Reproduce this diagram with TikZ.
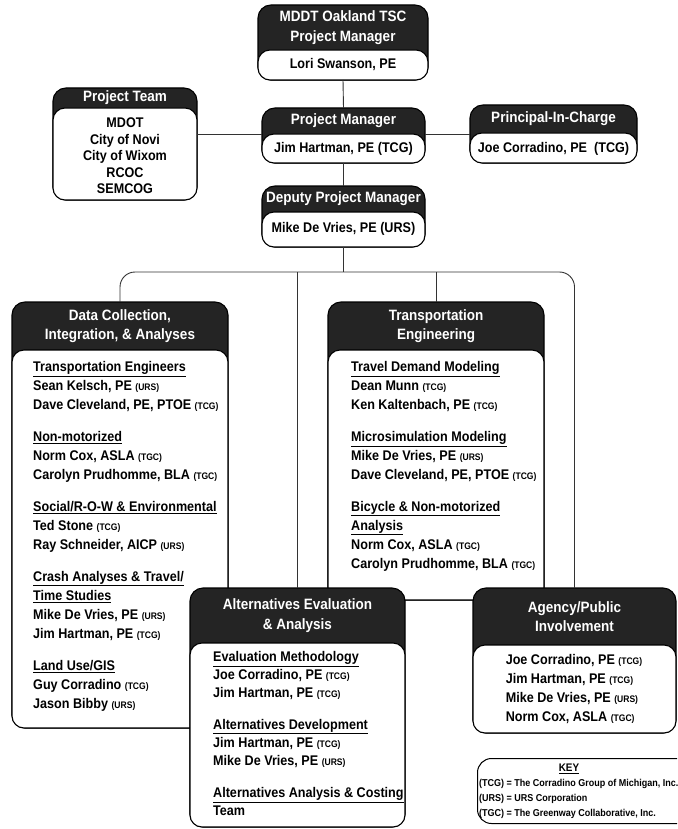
\documentclass[tikz,border=0pt]{standalone}
\usepackage{fontspec}
\setmainfont{Liberation Sans}[FakeStretch=0.9]
\usetikzlibrary{calc}
\definecolor{hdr}{gray}{0.14}
\newcommand\orgsm[1]{{\fontsize{9.5}{9.5}\selectfont #1}}
\tikzset{
  outerbox/.style={draw=black, line width=1.1pt, fill=hdr, rounded corners=13pt, inner sep=0pt, outer sep=0pt},
  innerbox/.style={draw=black, line width=1.1pt, fill=white, rounded corners=12pt, inner sep=0pt, outer sep=0pt},
  headtext/.style={text=white, font=\bfseries\fontsize{15}{19.5}\selectfont, align=center, inner sep=0pt},
  bodytext/.style={font=\bfseries\fontsize{14}{19}\selectfont, align=left, inner sep=0pt, anchor=north west},
  centtext/.style={font=\bfseries\fontsize{14}{19}\selectfont, align=center, inner sep=0pt},
  keytext/.style={font=\bfseries\fontsize{10}{15}\selectfont, align=left, inner sep=0pt},
  conn/.style={draw=black!80, line width=0.9pt},
}
\newcommand\orgbox[7]{%
  \pgfmathsetmacro\obw{#4-#2}%
  \pgfmathsetmacro\obh{#5-#3}%
  \pgfmathsetmacro\oih{#5-#6}%
  \pgfmathsetmacro\ocx{(#2+#4)/2}%
  \pgfmathsetmacro\ocy{(#3+#6)/2}%
  \node[outerbox, minimum width=\obw pt, minimum height=\obh pt, anchor=north west] (#1) at (#2,#3) {};
  \node[innerbox, minimum width=\obw pt, minimum height=\oih pt, anchor=south west] (#1-body) at (#2,#5) {};
  \node[headtext] (#1-head) at (\ocx,\ocy) {#7};
}
\begin{document}
\begin{tikzpicture}[x=1pt,y=-1pt]
\clip (0,0) rectangle (677,829);
\fill[white] (0,0) rectangle (677,829);

% top level
\orgbox{top}{258}{5}{428}{80}{50}{MDDT Oakland TSC\\Project Manager}
\node[centtext] (top-text) at (343,65) {Lori Swanson, PE};

\orgbox{pt}{53}{88}{197}{200}{108}{Project Team}
\node[centtext, font=\bfseries\fontsize{14}{16.5}\selectfont] (pt-text) at (125,156) {MDOT\\City of Novi\\City of Wixom\\RCOC\\SEMCOG};

\orgbox{pm}{262}{108}{425}{163}{134}{Project Manager}
\node[centtext] (pm-text) at (343.5,149) {Jim Hartman, PE (TCG)};

\orgbox{pic}{470}{105}{637}{163}{133}{Principal-In-Charge}
\node[centtext] (pic-text) at (553.5,149) {Joe Corradino, PE\ \ (TCG)};

\orgbox{dep}{262}{186}{425}{247}{212}{Deputy Project Manager}
\node[centtext] (dep-text) at (343.5,229) {Mike De Vries, PE (URS)};

% second level
\orgbox{dc}{12}{302}{228}{728}{350}{Data Collection,\\Integration, \& Analyses}
\node[bodytext] (dc-text) at (33,361) {\underline{Transportation Engineers}\\
Sean Kelsch, PE \orgsm{(URS)}\\
Dave Cleveland, PE, PTOE \orgsm{(TCG)}\\[13pt]
\underline{Non-motorized}\\
Norm Cox, ASLA \orgsm{(TGC)}\\
Carolyn Prudhomme, BLA \orgsm{(TGC)}\\[13pt]
\underline{Social/R-O-W \& Environmental}\\
Ted Stone \orgsm{(TCG)}\\
Ray Schneider, AICP \orgsm{(URS)}\\[13pt]
\underline{Crash Analyses \& Travel/}\\
\underline{Time Studies}\\
Mike De Vries, PE \orgsm{(URS)}\\
Jim Hartman, PE \orgsm{(TCG)}\\[13pt]
\underline{Land Use/GIS}\\
Guy Corradino \orgsm{(TCG)}\\
Jason Bibby \orgsm{(URS)}};

\orgbox{te}{328}{302}{544}{600}{350}{Transportation\\Engineering}
\node[bodytext] (te-text) at (351,361) {\underline{Travel Demand Modeling}\\
Dean Munn \orgsm{(TCG)}\\
Ken Kaltenbach, PE \orgsm{(TCG)}\\[13pt]
\underline{Microsimulation Modeling}\\
Mike De Vries, PE \orgsm{(URS)}\\
Dave Cleveland, PE, PTOE \orgsm{(TCG)}\\[13pt]
\underline{Bicycle \& Non-motorized}\\
\underline{Analysis}\\
Norm Cox, ASLA \orgsm{(TGC)}\\
Carolyn Prudhomme, BLA \orgsm{(TGC)}};

\orgbox{alt}{190}{588}{405}{827}{643}{Alternatives Evaluation\\\& Analysis}
\node[bodytext, font=\bfseries\fontsize{14}{18}\selectfont] (alt-text) at (213,651) {\underline{Evaluation Methodology}\\
Joe Corradino, PE \orgsm{(TCG)}\\
Jim Hartman, PE \orgsm{(TCG)}\\[14pt]
\underline{Alternatives Development}\\
Jim Hartman, PE \orgsm{(TCG)}\\
Mike De Vries, PE \orgsm{(URS)}\\[14pt]
\underline{Alternatives Analysis \& Costing}\\
Team};

\orgbox{ag}{473}{588}{676}{733}{645}{Agency/Public\\Involvement}
\node[bodytext, anchor=north] (ag-text) at (574,654) {Joe Corradino, PE \orgsm{(TCG)}\\
Jim Hartman, PE \orgsm{(TCG)}\\
Mike De Vries, PE \orgsm{(URS)}\\
Norm Cox, ASLA \orgsm{(TGC)}};

% key
\node[draw=black, line width=1pt, rounded corners=14pt, minimum width=225pt, minimum height=65pt, anchor=north west, inner sep=0pt] (key) at (477,758) {};
\node[keytext, font=\bfseries\fontsize{11}{11}\selectfont] (key-title) at (569,769) {\underline{KEY}};
\node[keytext, anchor=north west] (key-text) at (479,779) {(TCG) = The Corradino Group of Michigan, Inc.\\
(URS) = URS Corporation\\
(TGC) = The Greenway Collaborative, Inc.};

% connectors
\coordinate (bus) at (345,272);
\draw[conn] (top.south) -- (pm.north);
\draw[conn] (pm-body.north west) -- (pm-body.north west -| pt.east);
\draw[conn] (pm-body.north east) -- (pm-body.north east -| pic.west);
\draw[conn] (pm.south) -- (dep.north);
\draw[conn] (dep.south) -- (dep.south |- bus);
\draw[conn, rounded corners=15pt] (dc.north) |- (bus) -| (ag.north);
\draw[conn] (alt.north) -- (alt.north |- bus);
\draw[conn] (te.north) -- (te.north |- bus);
\end{tikzpicture}
\end{document}
